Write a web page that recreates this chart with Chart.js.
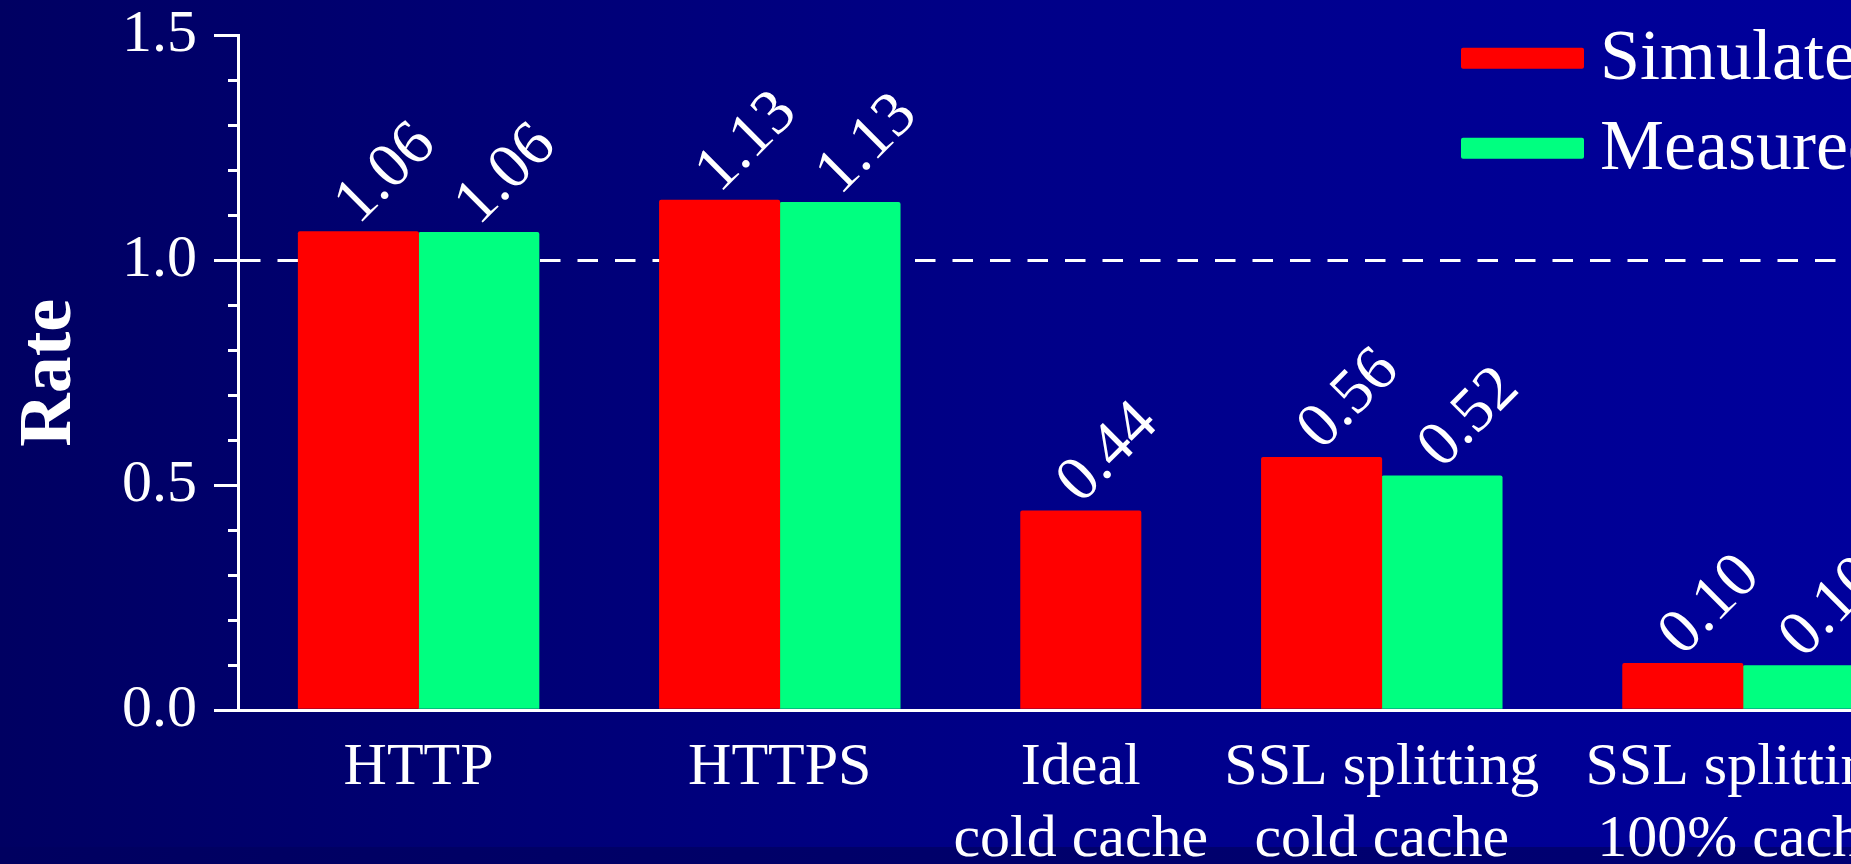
<!DOCTYPE html>
<html>
<head>
<meta charset="utf-8">
<title>Rate</title>
<script src="https://cdn.jsdelivr.net/npm/chart.js@4/dist/chart.umd.min.js"></script>
<style>
  html, body { margin: 0; padding: 0; width: 1851px; height: 864px; overflow: hidden; }
  body { position: relative; background: linear-gradient(90deg, #000062 0%, #000088 55%, #00009c 100%); }
  #band { position: absolute; left: 0; right: 0; top: 847px; height: 17px;
          background: linear-gradient(90deg, #000060, #000074); }
  #wrap { position: absolute; left: 0; top: 0; width: 2200px; height: 864px; }
</style>
</head>
<body>
<div id="band"></div>
<div id="wrap"><canvas id="chart" width="2200" height="864"></canvas></div>
<script>
// Categories (multi-line tick labels) and the two series
const categories = [
  ['HTTP'],
  ['HTTPS'],
  ['Ideal', 'cold cache'],
  ['SSL splitting', 'cold cache'],
  ['SSL splitting', '100% cache']
];
const simulated = [1.064, 1.134, 0.443, 0.562, 0.104];
const measured  = [1.062, 1.129, null, 0.521, 0.099];
const seriesNames = ['Simulated', 'Measured'];
const yMajorTicks = [0, 0.5, 1.0, 1.5];
const referenceLevel = 1.0;

// Layout constants (pixels)
const CANVAS_W = 2200;
const AREA_LEFT = 238;
const AREA_TOP = 35.5;
const X_AXIS_H = 154;
const BAR_W = 120.4;     // one bar slot on the x scale
const X_SLOTS = 16;
const FONT = '"Liberation Serif", "Times New Roman", serif';

// Each group takes one slot per present bar plus one slot of gap.
const centers = [];
let slotStart = 0.5;
categories.forEach((c, i) => {
  const n = [simulated[i], measured[i]].filter(v => v !== null).length;
  centers.push(slotStart + n / 2);
  slotStart += n + 1;
});

const toPoints = arr => arr.map((v, i) => ({ x: centers[i], y: v }));

// Rotated value labels above every bar
const valueLabels = {
  id: 'valueLabels',
  afterDatasetsDraw(chart) {
    const ctx = chart.ctx;
    ctx.save();
    ctx.fillStyle = '#ffffff';
    ctx.font = '64px ' + FONT;
    ctx.textAlign = 'left';
    ctx.textBaseline = 'alphabetic';
    chart.data.datasets.forEach((ds, di) => {
      const meta = chart.getDatasetMeta(di);
      meta.data.forEach((bar, i) => {
        const v = ds.data[i].y;
        if (v === null || v === undefined) return;
        ctx.save();
        ctx.translate(bar.x, bar.y - 6);
        ctx.rotate(-Math.PI / 4);
        ctx.fillText(v.toFixed(2), 0, 0);
        ctx.restore();
      });
    });
    ctx.restore();
  }
};

// Series key drawn inside the plot, top right
const seriesKey = {
  id: 'seriesKey',
  afterDraw(chart, args, opts) {
    const ctx = chart.ctx;
    ctx.save();
    chart.data.datasets.forEach((ds, i) => {
      const y = opts.top + i * opts.rowGap;
      ctx.fillStyle = ds.backgroundColor;
      ctx.beginPath();
      ctx.roundRect(opts.left, y - opts.boxH / 2, opts.boxW, opts.boxH, 2);
      ctx.fill();
      ctx.fillStyle = '#ffffff';
      ctx.font = opts.font;
      ctx.textAlign = 'left';
      ctx.textBaseline = 'middle';
      ctx.fillText(ds.label, opts.left + opts.boxW + opts.gap, y + 2);
    });
    ctx.restore();
  }
};

new Chart(document.getElementById('chart'), {
  type: 'bar',
  data: {
    datasets: [
      { label: seriesNames[0], data: toPoints(simulated), backgroundColor: '#ff0000' },
      { label: seriesNames[1], data: toPoints(measured), backgroundColor: '#00ff80' }
    ]
  },
  options: {
    responsive: false,
    animation: false,
    events: [],
    barThickness: BAR_W,
    categoryPercentage: 1,
    barPercentage: 1,
    skipNull: true,
    borderWidth: 0,
    borderRadius: 2,
    layout: {
      padding: { left: 0, top: AREA_TOP, bottom: 0, right: CANVAS_W - AREA_LEFT - X_SLOTS * BAR_W }
    },
    scales: {
      x: {
        type: 'linear',
        min: 0,
        max: X_SLOTS,
        offset: false,
        grid: { display: false, drawTicks: false, offset: false },
        border: { display: true, color: '#ffffff', width: 3 },
        afterBuildTicks: s => { s.ticks = centers.map(v => ({ value: v })); },
        afterFit: s => { s.height = X_AXIS_H; s.paddingLeft = 0; s.paddingRight = 0; },
        ticks: {
          autoSkip: false,
          maxRotation: 0,
          minRotation: 0,
          padding: 22,
          color: '#ffffff',
          font: { family: FONT, size: 60, lineHeight: 1.2 },
          callback: (v, i) => categories[i]
        }
      },
      y: {
        type: 'linear',
        position: 'left',
        min: yMajorTicks[0],
        max: yMajorTicks[yMajorTicks.length - 1],
        afterBuildTicks: s => { s.ticks = yMajorTicks.map(v => ({ value: v })); },
        afterFit: s => { s.width = AREA_LEFT; s.paddingTop = 0; s.paddingBottom = 0; },
        grid: {
          drawOnChartArea: true,
          color: c => (c.tick && Math.abs(c.tick.value - referenceLevel) < 1e-9) ? '#ffffff' : 'rgba(0,0,0,0)',
          lineWidth: 3,
          tickLength: 24,
          tickWidth: 3,
          tickColor: '#ffffff'
        },
        border: {
          display: true,
          color: '#ffffff',
          width: 3,
          dash: c => (c.type === 'tick' ? [20.5, 17] : [])
        },
        ticks: {
          padding: 17,
          color: '#ffffff',
          font: { family: FONT, size: 60, lineHeight: 1 },
          callback: v => v.toFixed(1)
        },
        title: {
          display: true,
          text: 'Rate',
          color: '#ffffff',
          padding: { top: 6, bottom: 0 },
          font: { family: FONT, size: 74, weight: 'bold', lineHeight: 1.2 }
        }
      },
      yMinor: {
        axis: 'y',
        type: 'linear',
        position: { x: 0 },
        min: yMajorTicks[0],
        max: yMajorTicks[yMajorTicks.length - 1],
        afterFit: s => { s.paddingTop = 0; s.paddingBottom = 0; },
        ticks: { display: false, stepSize: 0.1 },
        grid: {
          drawOnChartArea: false,
          tickLength: 10,
          tickWidth: 3,
          tickColor: '#ffffff'
        },
        border: { display: false }
      }
    },
    plugins: {
      legend: { display: false },
      tooltip: { enabled: false },
      seriesKey: { left: 1461, top: 58.3, rowGap: 90, boxW: 123, boxH: 21, gap: 16, font: '72px ' + FONT }
    }
  },
  plugins: [valueLabels, seriesKey]
});
</script>
</body>
</html>
